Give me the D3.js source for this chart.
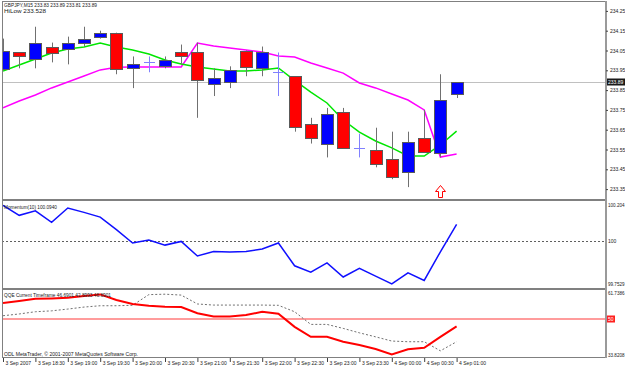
<!DOCTYPE html>
<html>
<head>
<meta charset="utf-8">
<script src="https://cdn.jsdelivr.net/npm/d3@7"></script>
<style>
  body { margin: 0; background: #fff; }
  svg { display: block; font-family: "Liberation Sans", Arial, sans-serif; }
</style>
</head>
<body>
<div id="chart"></div>
<script>
// GBPJPY M15, bars from 3 Sep 18:00 to 4 Sep 01:00
const timeLabels = ["3 Sep 2007", "3 Sep 18:30", "3 Sep 19:00", "3 Sep 19:30", "3 Sep 20:00",
    "3 Sep 20:30", "3 Sep 21:00", "3 Sep 21:30", "3 Sep 22:00", "3 Sep 22:30", "3 Sep 23:00",
    "3 Sep 23:30", "4 Sep 00:00", "4 Sep 00:30", "4 Sep 01:00"];
const labelBars = [0, 2, 4, 6, 8, 10, 12, 14, 16, 18, 20, 22, 24, 26, 28];

const open  = [233.96, 234.04, 234.01, 234.07, 234.06, 234.09, 234.12, 234.14, 233.96, 233.99,
    233.97, 234.04, 234.04, 233.88, 233.89, 234.05, 233.96, 233.94, 233.92, 233.68,
    233.58, 233.74, 233.56, 233.55, 233.50, 233.44, 233.61, 233.53, 233.83];
const high  = [234.11, 234.04, 234.17, 234.09, 234.12, 234.17, 234.15, 234.14, 234.02, 234.02,
    234.02, 234.08, 234.09, 233.96, 233.97, 234.05, 234.07, 234.04, 233.92, 233.71,
    233.76, 233.76, 233.63, 233.66, 233.64, 233.64, 233.75, 233.93, 233.89];
const low   = [233.95, 233.96, 233.96, 233.99, 233.98, 234.07, 234.11, 233.93, 233.86, 233.94,
    233.96, 233.98, 233.71, 233.82, 233.86, 233.92, 233.92, 233.82, 233.64, 233.58,
    233.51, 233.56, 233.51, 233.46, 233.40, 233.36, 233.54, 233.51, 233.81];
const close = [234.05, 234.02, 234.09, 234.04, 234.09, 234.11, 234.14, 233.96, 233.98, 233.99,
    234.00, 234.02, 233.90, 233.91, 233.95, 233.97, 234.04, 233.94, 233.66, 233.61,
    233.73, 233.56, 233.56, 233.48, 233.41, 233.59, 233.54, 233.80, 233.89];

const maGreen = [233.946, 233.977, 234.007, 234.037, 234.058, 234.068, 234.088, 234.068, 234.053, 234.032,
    234.002, 233.982, 233.967, 233.957, 233.946, 233.946, 233.952, 233.962, 233.899, 233.840,
    233.785, 233.699, 233.638, 233.593, 233.558, 233.517, 233.517, 233.573, 233.643];
const maMagenta = [233.760, 233.795, 233.825, 233.861, 233.891, 233.921, 233.952, 233.965, 233.967, 233.967,
    233.967, 233.967, 234.088, 234.073, 234.063, 234.053, 234.042, 234.022, 234.017, 233.987,
    233.962, 233.936, 233.886, 233.861, 233.830, 233.800, 233.750, 233.512, 233.527];

const momentum = [100.202, 100.145, 100.171, 100.105, 100.187, 100.162, 100.135, 100.063, 99.987, 100.004,
    99.975, 99.996, 99.913, 99.939, 99.935, 99.939, 99.953, 99.987, 99.857, 99.821,
    99.873, 99.793, 99.842, 99.798, 99.753, 99.817, 99.773, 99.937, 100.094];

const qqeRsi = [57.2, 58.1, 59.1, 59.3, 59.6, 60.4, 61.1, 58.6, 56.8, 56.0,
    55.5, 55.4, 52.6, 51.2, 51.2, 51.8, 53.3, 52.4, 46.5, 42.0,
    42.0, 39.8, 38.3, 36.5, 34.1, 36.4, 37.1, 42.0, 46.7];
const qqeTrail = [51.5, 52.3, 53.3, 53.7, 54.5, 55.4, 56.0, 56.0, 56.2, 61.0,
    61.2, 60.8, 56.8, 56.3, 56.3, 56.3, 56.3, 56.2, 53.3, 47.6,
    47.6, 45.8, 43.8, 42.0, 40.1, 39.8, 39.8, 35.7, 39.8];

const priceTicks = [234.25, 234.15, 234.05, 233.95, 233.85, 233.75, 233.65, 233.55, 233.45, 233.35];
const lastPrice = 233.89;
const momTicks = [100.204, 100, 99.7529];
const momTickLabels = ["100.204", "100", "99.7529"];
const qqeTicks = [61.7386, 50, 33.8208];
const qqeTickLabels = ["61.7386", "50", "33.8208"];
const arrows = [{ bar: 27, price: 233.37 }];

const W = 625, H = 367;
const left = 2, right = 605;

const svg = d3.select("#chart").append("svg")
    .attr("width", W)
    .attr("height", H);

svg.append("rect").attr("width", W).attr("height", H).attr("fill", "#fff");

// scales
const x = d3.scaleLinear().domain([0, 28]).range([3, 456.6]);
const yPrice = d3.scaleLinear().domain([233.30, 234.30]).range([199, 1]);
const yMom = d3.scaleLinear().domain([99.7529, 100.204]).range([284, 205]);
const yQqe = d3.scaleLinear().domain([33.8208, 61.7386]).range([355, 293]);

const px = i => Math.round(x(i));

// clip areas for the three panels
const defs = svg.append("defs");
[["clipMain", 1, 198], ["clipMom", 201, 87], ["clipQqe", 290, 67]].forEach(c => {
    defs.append("clipPath").attr("id", c[0])
        .append("rect").attr("x", left + 1).attr("y", c[1]).attr("width", right - left - 1).attr("height", c[2]);
});

const main = svg.append("g").attr("clip-path", "url(#clipMain)");
const mom = svg.append("g").attr("clip-path", "url(#clipMom)");
const qqe = svg.append("g").attr("clip-path", "url(#clipQqe)");

// last price line
main.append("line")
    .attr("x1", left).attr("x2", right)
    .attr("y1", Math.round(yPrice(lastPrice)) + 0.5).attr("y2", Math.round(yPrice(lastPrice)) + 0.5)
    .attr("stroke", "#c0c0c0");

// moving averages
const priceLine = d3.line().x((d, i) => x(i)).y(d => yPrice(d));
main.append("path").datum(maMagenta)
    .attr("d", priceLine).attr("fill", "none")
    .attr("stroke", "#ff00ff").attr("stroke-width", 1.5);
main.append("path").datum(maGreen)
    .attr("d", priceLine).attr("fill", "none")
    .attr("stroke", "#00e600").attr("stroke-width", 1.5);

// candles
const bars = d3.range(open.length);
const candle = main.selectAll(".candle").data(bars).enter().append("g").attr("class", "candle");

candle.append("line")
    .attr("x1", i => px(i) + 0.5).attr("x2", i => px(i) + 0.5)
    .attr("y1", i => yPrice(high[i])).attr("y2", i => yPrice(low[i]))
    .attr("stroke", i => open[i] === close[i] ? "#8080ff" : "#707070");

candle.filter(i => open[i] !== close[i]).append("rect")
    .attr("x", i => px(i) - 5.5)
    .attr("y", i => Math.round(yPrice(Math.max(open[i], close[i]))) + 0.5)
    .attr("width", 12)
    .attr("height", i => Math.max(1, Math.round(Math.abs(yPrice(open[i]) - yPrice(close[i])))))
    .attr("fill", i => close[i] > open[i] ? "#0000ff" : "#ff0000")
    .attr("stroke", "#5a5a5a");

candle.filter(i => open[i] === close[i]).append("line")
    .attr("x1", i => px(i) - 5).attr("x2", i => px(i) + 6)
    .attr("y1", i => Math.round(yPrice(open[i])) + 0.5).attr("y2", i => Math.round(yPrice(open[i])) + 0.5)
    .attr("stroke", "#8080ff");

// signal arrow
main.selectAll(".arrow").data(arrows).enter().append("path")
    .attr("class", "arrow")
    .attr("d", d => {
        const cx = px(d.bar) + 0.5, t = Math.round(yPrice(d.price)) + 0.5;
        return `M${cx},${t} L${cx + 5},${t + 6} L${cx + 2},${t + 6} L${cx + 2},${t + 12} L${cx - 2},${t + 12} L${cx - 2},${t + 6} L${cx - 5},${t + 6} Z`;
    })
    .attr("fill", "#fff").attr("stroke", "#ff0000");

// momentum panel
mom.append("line")
    .attr("x1", left).attr("x2", right)
    .attr("y1", Math.round(yMom(100)) + 0.5).attr("y2", Math.round(yMom(100)) + 0.5)
    .attr("stroke", "#606060").attr("stroke-dasharray", "2,2");
mom.append("path").datum(momentum)
    .attr("d", d3.line().x((d, i) => x(i)).y(d => yMom(d)))
    .attr("fill", "none").attr("stroke", "#1010ff").attr("stroke-width", 1.5);

// QQE panel
qqe.append("line")
    .attr("x1", left).attr("x2", right)
    .attr("y1", yQqe(50)).attr("y2", yQqe(50))
    .attr("stroke", "#ff9c9c").attr("stroke-width", 2);
qqe.append("path").datum(qqeTrail)
    .attr("d", d3.line().x((d, i) => x(i)).y(d => yQqe(d)))
    .attr("fill", "none").attr("stroke", "#707070").attr("stroke-dasharray", "2,2");
qqe.append("path").datum(qqeRsi)
    .attr("d", d3.line().x((d, i) => x(i)).y(d => yQqe(d)))
    .attr("fill", "none").attr("stroke", "#ff0000").attr("stroke-width", 2);

// frame and panel separators
svg.append("line").attr("x1", left).attr("x2", right).attr("y1", 1.5).attr("y2", 1.5).attr("stroke", "#808080");
svg.append("line").attr("x1", left + 0.5).attr("x2", left + 0.5).attr("y1", 1).attr("y2", 358).attr("stroke", "#808080");
svg.append("rect").attr("x", left).attr("y", 199).attr("width", right - left).attr("height", 2).attr("fill", "#808080");
svg.append("rect").attr("x", left).attr("y", 288).attr("width", right - left).attr("height", 2).attr("fill", "#808080");
svg.append("line").attr("x1", left).attr("x2", right + 2).attr("y1", 357.5).attr("y2", 357.5).attr("stroke", "#808080");
svg.append("rect").attr("x", right).attr("y", 1).attr("width", 2).attr("height", 357).attr("fill", "#9a9a9a");

// right-hand value axes
function styleAxis(g) {
    g.select(".domain").remove();
    g.selectAll(".tick line").attr("stroke", "#404040");
    g.selectAll(".tick text").attr("fill", "#202020").style("font-size", "5px")
        .each(function () {
            const t = d3.select(this);
            if (t.text().length > 6) t.attr("textLength", 16.5).attr("lengthAdjust", "spacingAndGlyphs");
        });
}

svg.append("g")
    .attr("transform", `translate(${right + 1},0)`)
    .call(d3.axisRight(yPrice).tickValues(priceTicks).tickFormat(d3.format(".2f")).tickSize(2).tickPadding(2))
    .call(styleAxis);

svg.append("g")
    .attr("transform", `translate(${right + 1},0)`)
    .call(d3.axisRight(yMom).tickValues(momTicks).tickFormat((d, i) => momTickLabels[i]).tickSize(0).tickPadding(2))
    .call(styleAxis);

svg.append("g")
    .attr("transform", `translate(${right + 1},0)`)
    .call(d3.axisRight(yQqe).tickValues(qqeTicks).tickFormat((d, i) => qqeTickLabels[i]).tickSize(0).tickPadding(2))
    .call(styleAxis);

// highlighted labels: last price and QQE 50 level
const lp = Math.round(yPrice(lastPrice));
svg.append("rect").attr("x", right + 2).attr("y", lp - 3.5).attr("width", 18).attr("height", 7).attr("fill", "#1a1a1a");
svg.append("text").attr("x", right + 3).attr("y", lp + 2).attr("fill", "#fff")
    .style("font-size", "5px").text(d3.format(".2f")(lastPrice));

const l50 = Math.round(yQqe(50));
svg.append("rect").attr("x", right + 2).attr("y", l50 - 3.5).attr("width", 8).attr("height", 7).attr("fill", "#ff2020");
svg.append("text").attr("x", right + 3).attr("y", l50 + 2).attr("fill", "#fff")
    .style("font-size", "5px").text("50");

// time axis
const timeAxis = svg.append("g")
    .attr("transform", "translate(0,358)")
    .call(d3.axisBottom(x).tickValues(labelBars).tickFormat((d, i) => timeLabels[i]).tickSize(4).tickPadding(1));
timeAxis.select(".domain").remove();
timeAxis.selectAll(".tick line").attr("stroke", "#404040");
timeAxis.selectAll(".tick text")
    .attr("text-anchor", "start").attr("x", 2).attr("y", 3).attr("dy", "0.71em")
    .attr("fill", "#202020").style("font-size", "5px");

// panel captions
const captions = [
    { text: "GBPJPY,M15  233.83 233.89 233.81 233.89", y: 7, w: 93 },
    { text: "HiLow 233.528", y: 12.5, w: 42 },
    { text: "Momentum(10) 100.0940", y: 209, w: 53 },
    { text: "QQE Current Timeframe 46.6901 42.8993 46.6901", y: 297, w: 107 },
    { text: "ODL MetaTrader, \u00a9 2001-2007 MetaQuotes Software Corp.", y: 356, w: 134 }
];
svg.selectAll(".caption").data(captions).enter().append("text")
    .attr("class", "caption")
    .attr("x", 4).attr("y", d => d.y)
    .attr("textLength", d => d.w).attr("lengthAdjust", "spacingAndGlyphs")
    .attr("fill", "#202020").style("font-size", "5px")
    .text(d => d.text);
</script>
</body>
</html>
